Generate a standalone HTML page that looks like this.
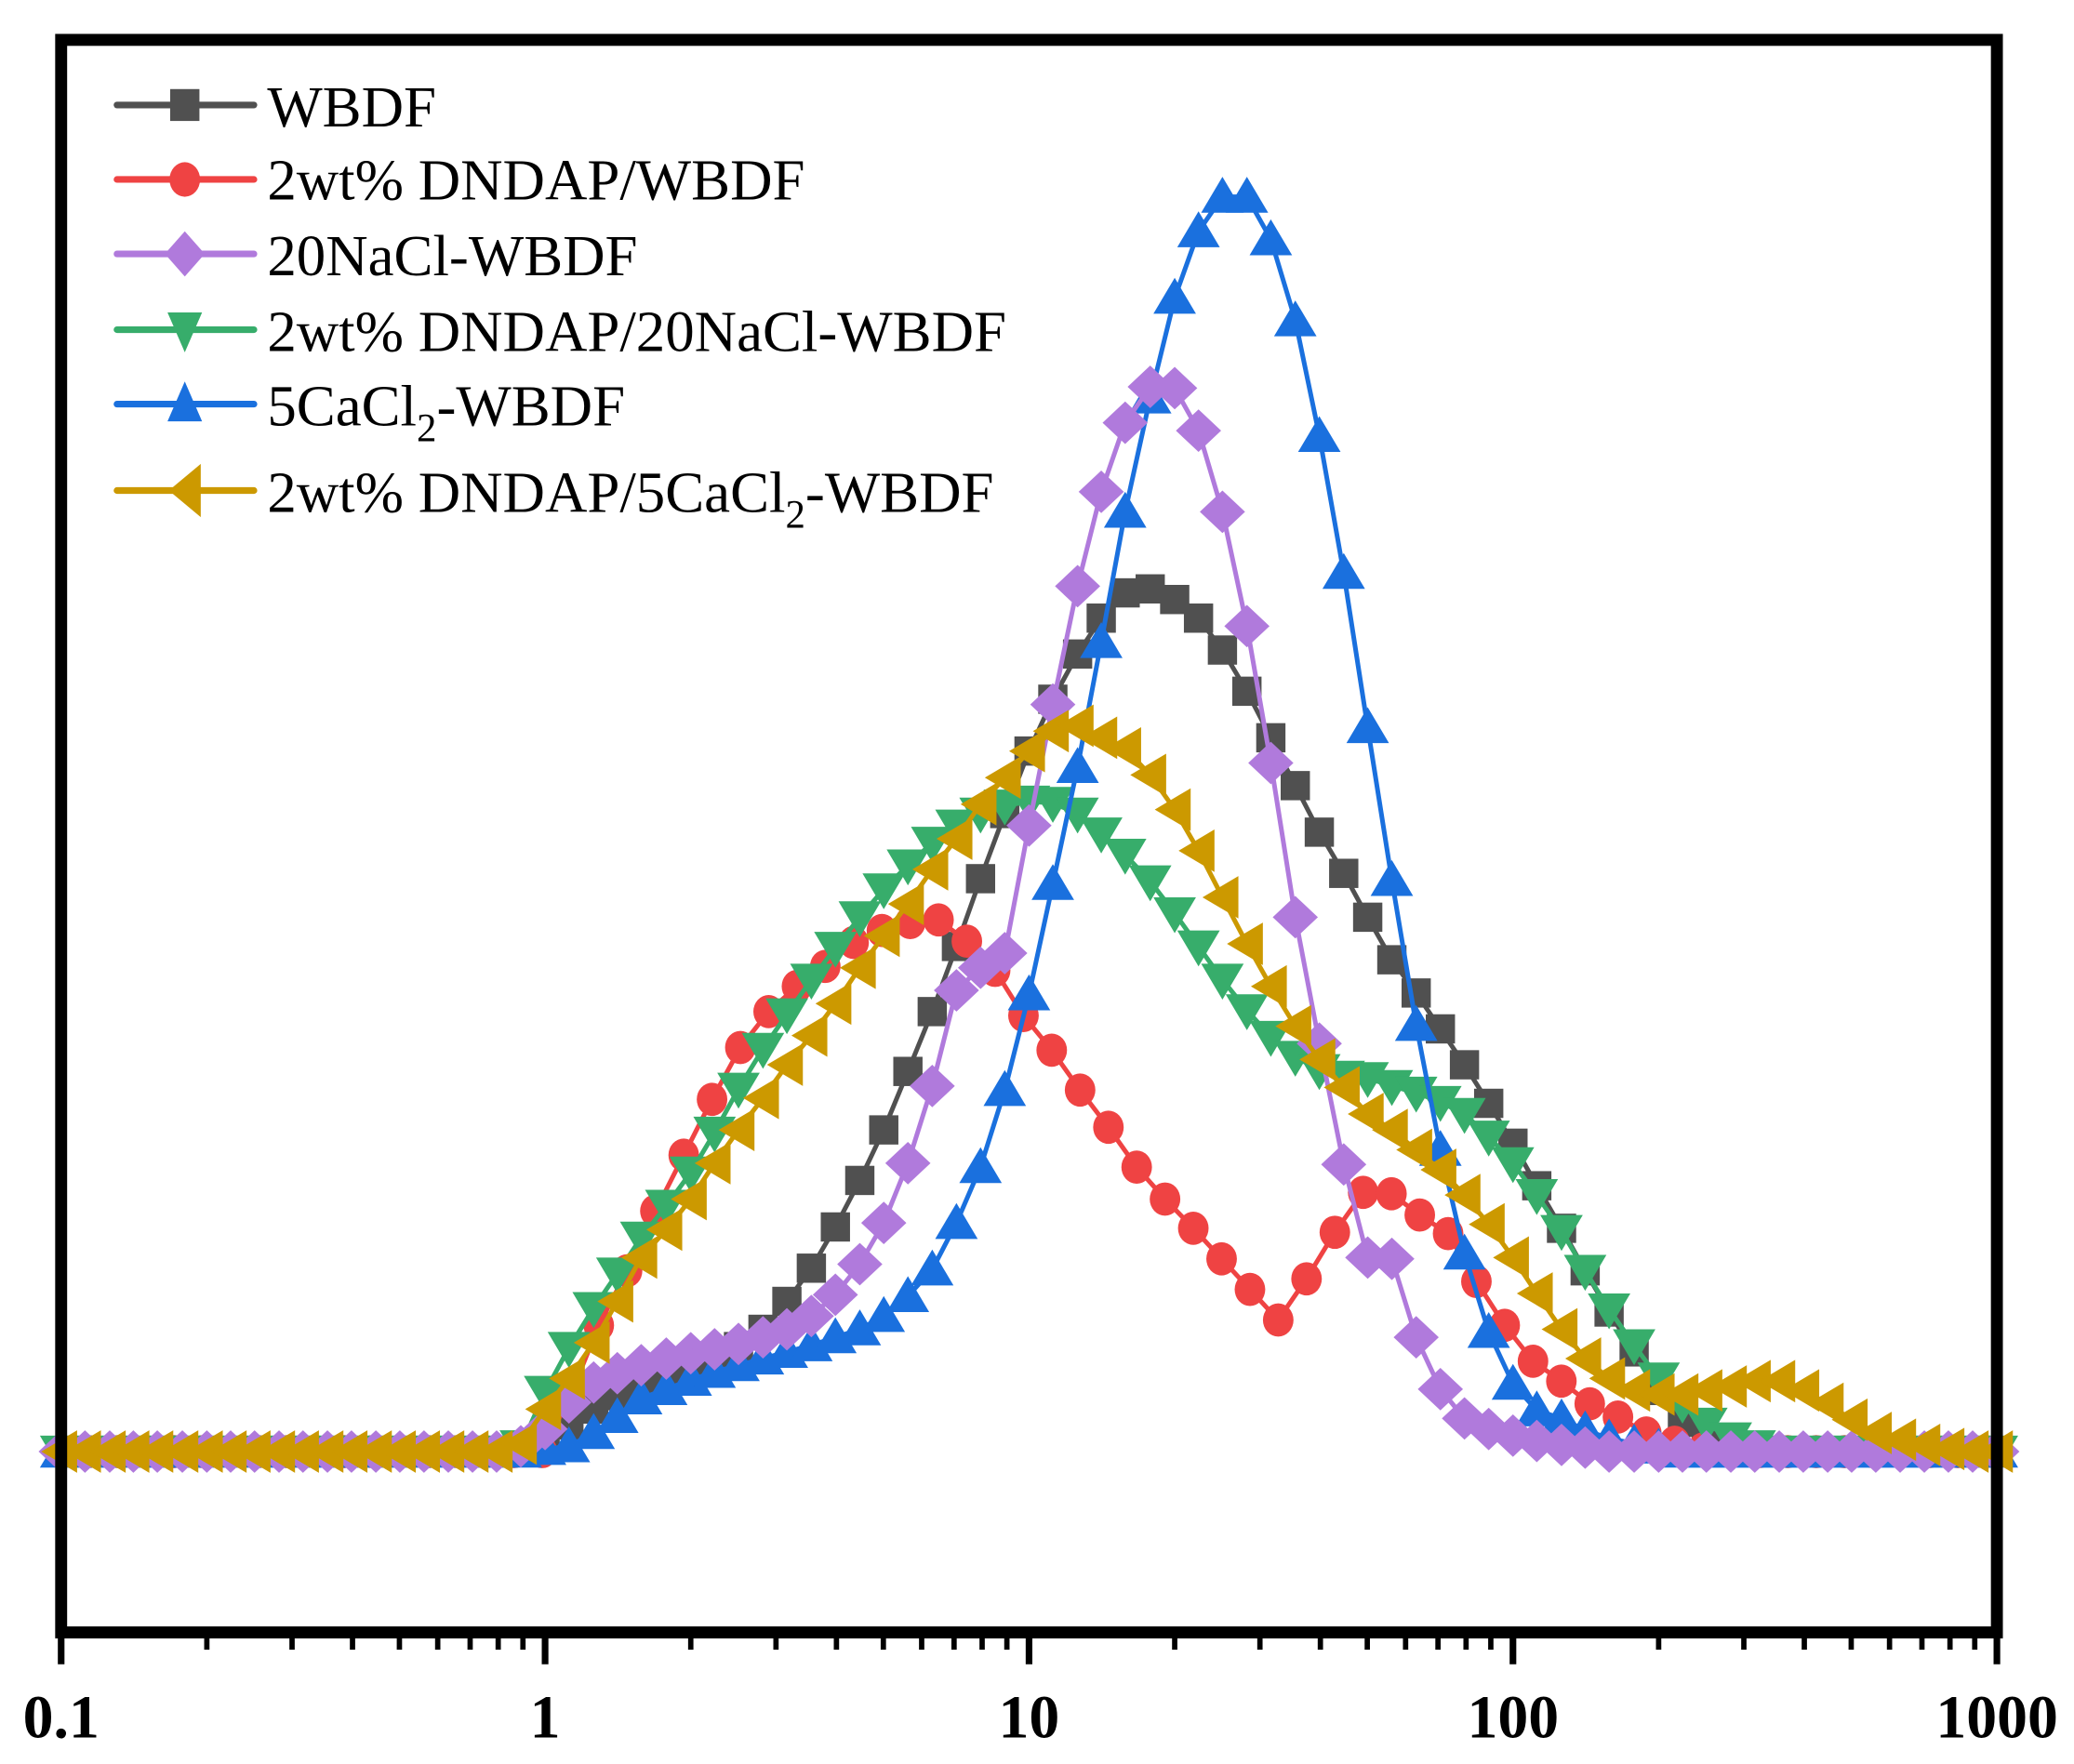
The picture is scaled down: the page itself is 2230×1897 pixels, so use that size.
<!DOCTYPE html>
<html><head><meta charset="utf-8"><style>
html,body{margin:0;padding:0;background:#fff;}
svg{display:block;}
text{font-family:"Liberation Serif","Times New Roman",serif;}
</style></head><body>
<svg id="chart" xmlns="http://www.w3.org/2000/svg" width="2230" height="1897" viewBox="0 0 1560 1327" preserveAspectRatio="none">
<rect x="0" y="0" width="1560" height="1327" fill="#fff"/>
<g id="series-layer"></g>
<rect x="46" y="30" width="1456" height="1198" fill="none" stroke="#000" stroke-width="9"/>
<g id="axis-layer"></g>
<g id="legend"></g>
</svg>
<script>
const xCats = [0.1,0.112,0.126,0.141,0.158,0.178,0.2,0.224,0.251,0.282,0.316,0.355,0.398,0.447,0.501,0.562,0.631,0.708,0.794,0.891,1,1.12,1.26,1.41,1.58,1.78,2,2.24,2.51,2.82,3.16,3.55,3.98,4.47,5.01,5.62,6.31,7.08,7.94,8.91,10,11.2,12.6,14.1,15.8,17.8,20,22.4,25.1,28.2,31.6,35.5,39.8,44.7,50.1,56.2,63.1,70.8,79.4,89.1,100,112,126,141,158,178,200,224,251,282,316,355,398,447,501,562,631,708,794,891,1000];
const redX = [0.0999,0.114,0.131,0.150,0.171,0.196,0.224,0.256,0.293,0.336,0.384,0.439,0.503,0.575,0.658,0.753,0.862,0.986,1.128,1.291,1.477,1.690,1.934,2.213,2.532,2.897,3.315,3.793,4.340,4.966,5.682,6.501,7.439,8.511,9.739,11.14,12.75,14.59,16.69,19.10,21.85,25.00,28.61,32.73,37.45,42.85,49.03,56.10,64.19,73.45,84.04,96.16,110.0,125.9,144.1,164.8,188.6,215.8,246.9,282.5,323.2,369.8,423.2,484.2,554.0,633.9,725.3,829.9,949.6];
const wbdf = [0,0,0,0,0,0,0,0,0,0,0,0,0,0,0,0,0,0,0,0,0.04,0.20,0.32,0.42,0.49,0.54,0.60,0.67,0.79,0.92,1.13,1.38,1.69,2.04,2.42,2.86,3.31,3.80,4.31,4.80,5.27,5.66,6.00,6.27,6.46,6.49,6.41,6.27,6.03,5.72,5.37,5.01,4.66,4.35,4.02,3.70,3.45,3.18,2.91,2.62,2.32,2.00,1.68,1.36,1.05,0.75,0.46,0.22,0.09,0.03,0,0,0,0,0,0,0,0,0,0,0];
const dndapWbdf = [0,0,0,0,0,0,0,0,0,0,0,0,0,0,0,0,0,0,0.42,0.95,1.36,1.81,2.23,2.65,3.04,3.31,3.50,3.65,3.83,3.92,3.98,4.00,3.84,3.62,3.28,3.02,2.72,2.44,2.14,1.90,1.68,1.45,1.22,0.99,1.30,1.65,1.95,1.94,1.78,1.64,1.28,0.95,0.68,0.53,0.36,0.26,0.14,0.07,0.02,0,0,0,0,0,0,0,0,0,0];
const nacl = [0,0,0,0,0,0,0,0,0,0,0,0,0,0,0,0,0,0,0,0.04,0.17,0.37,0.52,0.59,0.65,0.70,0.74,0.77,0.81,0.86,0.92,1.02,1.18,1.41,1.72,2.17,2.75,3.47,3.64,3.75,4.71,5.62,6.51,7.22,7.74,8.01,8.00,7.68,7.07,6.21,5.18,4.02,3.07,2.16,1.46,1.45,0.86,0.47,0.25,0.17,0.12,0.08,0.05,0.03,0,0,0,0,0,0,0,0,0,0,0,0,0,0,0,0,0];
const dndapNacl = [0,0,0,0,0,0,0,0,0,0,0,0,0,0,0,0,0,0,0,0.04,0.45,0.78,1.08,1.34,1.61,1.85,2.10,2.40,2.73,3.03,3.29,3.55,3.79,4.02,4.23,4.41,4.58,4.71,4.80,4.86,4.89,4.88,4.80,4.65,4.49,4.29,4.05,3.80,3.55,3.32,3.12,2.97,2.87,2.82,2.81,2.75,2.70,2.63,2.54,2.37,2.17,1.93,1.66,1.36,1.07,0.80,0.55,0.36,0.21,0.10,0.04,0,0,0,0,0,0,0,0,0,0];
const cacl = [0,0,0,0,0,0,0,0,0,0,0,0,0,0,0,0,0,0,0,0,0.02,0.04,0.14,0.26,0.40,0.47,0.54,0.60,0.65,0.70,0.75,0.80,0.86,0.92,1.02,1.17,1.37,1.72,2.14,2.72,3.44,4.27,5.15,6.09,7.07,7.93,8.68,9.18,9.44,9.44,9.12,8.51,7.64,6.61,5.45,4.30,3.21,2.27,1.49,0.90,0.51,0.31,0.25,0.16,0.10,0.06,0.03,0,0,0,0,0,0,0,0,0,0,0,0,0,0];
const dndapCacl = [0,0,0,0,0,0,0,0,0,0,0,0,0,0,0,0,0,0,0,0.06,0.32,0.55,0.82,1.13,1.46,1.67,1.90,2.17,2.42,2.66,2.91,3.13,3.37,3.64,3.88,4.12,4.38,4.61,4.87,5.07,5.27,5.42,5.46,5.37,5.29,5.09,4.83,4.52,4.17,3.82,3.50,3.20,2.95,2.74,2.54,2.42,2.27,2.12,1.93,1.71,1.46,1.19,0.92,0.70,0.55,0.46,0.43,0.43,0.46,0.49,0.53,0.53,0.46,0.36,0.24,0.14,0.09,0.05,0.02,0,0];
const majorTicks = [0.1,1,10,100,1000];
const tickLabels = ["0.1","1","10","100","1000"];

const NS = "http://www.w3.org/2000/svg";
const X0 = 46, DEC = 364, Y0 = 1092, YK = 100;
function xs(v){ return X0 + (Math.log10(v) + 1) * DEC; }
function ys(v){ return Y0 - v * YK; }
function mk(tag, attrs, parent){
  const e = document.createElementNS(NS, tag);
  for (const k in attrs) e.setAttribute(k, attrs[k]);
  parent.appendChild(e);
  return e;
}
function marker(shape, cx, cy, color, parent){
  let e;
  if (shape === 'square') e = mk('rect', {x: cx-11, y: cy-11, width: 22, height: 22, fill: color}, parent);
  else if (shape === 'circle') e = mk('ellipse', {cx: cx, cy: cy, rx: 11.5, ry: 12.5, fill: color}, parent);
  else if (shape === 'diamond') e = mk('polygon', {points: `${cx},${cy-16} ${cx+17},${cy} ${cx},${cy+16} ${cx-17},${cy}`, fill: color}, parent);
  else if (shape === 'up') e = mk('polygon', {points: `${cx},${cy-15} ${cx+16},${cy+12} ${cx-16},${cy+12}`, fill: color}, parent);
  else if (shape === 'down') e = mk('polygon', {points: `${cx-16},${cy-12} ${cx+16},${cy-12} ${cx},${cy+15}`, fill: color}, parent);
  else e = mk('polygon', {points: `${cx-15},${cy} ${cx+12},${cy-16} ${cx+12},${cy+16}`, fill: color}, parent);
  return e;
}
const seriesLayer = document.getElementById('series-layer');
const seriesDefs = [
  {name:'series-wbdf', xv:xCats, yv:wbdf, color:'#505050', shape:'square'},
  {name:'series-dndap-wbdf', xv:redX, yv:dndapWbdf, color:'#EF4343', shape:'circle'},
  {name:'series-dndap-nacl-wbdf', xv:xCats, yv:dndapNacl, color:'#37AD6B', shape:'down'},
  {name:'series-cacl2-wbdf', xv:xCats, yv:cacl, color:'#1A70DE', shape:'up'},
  {name:'series-nacl-wbdf', xv:xCats, yv:nacl, color:'#B07ADC', shape:'diamond'},
  {name:'series-dndap-cacl2-wbdf', xv:xCats, yv:dndapCacl, color:'#CC9900', shape:'left'}
];
seriesDefs.forEach(s => {
  const g = mk('g', {}, seriesLayer);
  
  
  const pts = s.yv.map((v, i) => xs(s.xv[i]).toFixed(1) + ',' + ys(v).toFixed(1)).join(' ');
  const line = mk('polyline', {points: pts, fill: 'none', stroke: s.color, 'stroke-width': 3.5, 'stroke-linejoin': 'round'}, g);
  
  
  s.yv.forEach((v, i) => {
    const m = marker(s.shape, xs(s.xv[i]), ys(v), s.color, g);
    
    
  });
});
// axis ticks
const axis = document.getElementById('axis-layer');
for (let d = 0; d < 4; d++) {
  for (let m = 2; m <= 9; m++) {
    const x = xs(majorTicks[d] * m);
    const t = mk('line', {x1: x, x2: x, y1: 1228, y2: 1241, stroke: '#000', 'stroke-width': 4}, axis);
    
    
  }
}
majorTicks.forEach((v, i) => {
  const x = xs(v);
  const t = mk('line', {x1: x, x2: x, y1: 1228, y2: 1252, stroke: '#000', 'stroke-width': 5}, axis);
  
  
  const lb = mk('text', {x: x, y: 1307, 'text-anchor': 'middle', 'font-size': 46, 'font-weight': 'bold', fill: '#000'}, axis);
  lb.textContent = tickLabels[i];
  
  
});
</script>
<script>
(function(){
  const NS = "http://www.w3.org/2000/svg";
  const legend = document.getElementById('legend');
  const items = [
    {label:'WBDF', color:'#505050', shape:'square', cy:79, base:95},
    {label:'2wt% DNDAP/WBDF', color:'#EF4343', shape:'circle', cy:135, base:150},
    {label:'20NaCl-WBDF', color:'#B07ADC', shape:'diamond', cy:191, base:207},
    {label:'2wt% DNDAP/20NaCl-WBDF', color:'#37AD6B', shape:'down', cy:248, base:264},
    {label:'5CaCl|2|-WBDF', color:'#1A70DE', shape:'up', cy:304, base:320},
    {label:'2wt% DNDAP/5CaCl|2|-WBDF', color:'#CC9900', shape:'left', cy:369, base:385}
  ];
  function mk(tag, attrs, parent){
    const e = document.createElementNS(NS, tag);
    for (const k in attrs) e.setAttribute(k, attrs[k]);
    parent.appendChild(e); return e;
  }
  items.forEach(it => {
    const g = mk('g', {}, legend);
    
    
    mk('line', {x1: 88, x2: 191, y1: it.cy, y2: it.cy, stroke: it.color, 'stroke-width': 5, 'stroke-linecap': 'round'}, g);
    const cx = 139, cy = it.cy; let m;
    if (it.shape === 'square') m = mk('rect', {x: cx-11, y: cy-12, width: 22, height: 24, fill: it.color}, g);
    else if (it.shape === 'circle') m = mk('ellipse', {cx: cx, cy: cy, rx: 11.5, ry: 13, fill: it.color}, g);
    else if (it.shape === 'diamond') m = mk('polygon', {points: `${cx},${cy-17} ${cx+15},${cy} ${cx},${cy+17} ${cx-15},${cy}`, fill: it.color}, g);
    else if (it.shape === 'up') m = mk('polygon', {points: `${cx},${cy-17} ${cx+13},${cy+13} ${cx-13},${cy+13}`, fill: it.color}, g);
    else if (it.shape === 'down') m = mk('polygon', {points: `${cx-13},${cy-13} ${cx+13},${cy-13} ${cx},${cy+17}`, fill: it.color}, g);
    else m = mk('polygon', {points: `${cx-12},${cy} ${cx+12},${cy-20} ${cx+12},${cy+20}`, fill: it.color}, g);
    
    
    const t = mk('text', {x: 201, y: it.base, 'font-size': 44, fill: '#000'}, g);
    
    
    const parts = it.label.split('|');
    parts.forEach((p, i) => {
      const ts = mk('tspan', {}, t);
      ts.textContent = p;
      if (i === 1) { ts.setAttribute('font-size', 30); ts.setAttribute('dy', 12); }
      if (i === 2) { ts.setAttribute('dy', -12); }
    });
  });
})();
</script>
</body></html>
